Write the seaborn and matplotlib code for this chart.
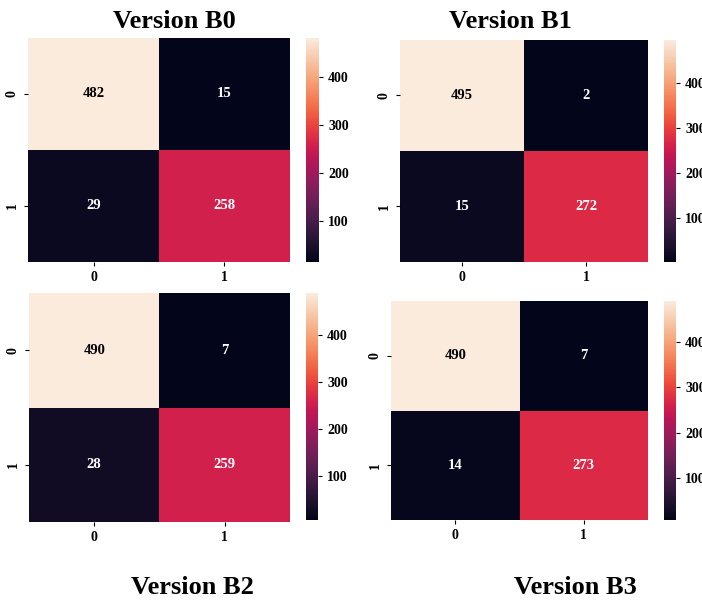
import numpy as np
import matplotlib
matplotlib.use("Agg")
import matplotlib.pyplot as plt
import seaborn as sns

# confusion matrices for the four versions
labels = ["0", "1"]
cm_b0 = [[482, 15], [29, 258]]
cm_b1 = [[495, 2], [15, 272]]
cm_b2 = [[490, 7], [28, 259]]
cm_b3 = [[490, 7], [14, 273]]
titles = ["Version B0", "Version B1", "Version B2", "Version B3"]

plt.rcParams["font.family"] = ["Liberation Serif", "DejaVu Serif"]
plt.rcParams["font.weight"] = "bold"

fig = plt.figure(figsize=(7.02, 6.03), dpi=100)

# [heatmap axes], [colorbar axes] in figure fractions
ax_pos = [
    [0.0399, 0.5655, 0.3732, 0.3715],
    [0.5698, 0.5655, 0.3533, 0.3682],
    [0.0413, 0.1343, 0.3718, 0.3798],
    [0.5570, 0.1376, 0.3661, 0.3632],
]
cb_pos = [
    [0.4359, 0.5655, 0.0185, 0.3715],
    [0.9459, 0.5655, 0.0171, 0.3682],
    [0.4359, 0.1376, 0.0171, 0.3765],
    [0.9459, 0.1376, 0.0171, 0.3632],
]
title_pos = [(0.249, 0.964), (0.7265, 0.964), (0.2735, 0.025), (0.819, 0.025)]

for cm, p, c, t, tp in zip([cm_b0, cm_b1, cm_b2, cm_b3], ax_pos, cb_pos, titles, title_pos):
    ax = fig.add_axes(p)
    cax = fig.add_axes(c)
    sns.heatmap(np.array(cm), annot=True, fmt="d", cmap="rocket", ax=ax, cbar_ax=cax,
                xticklabels=labels, yticklabels=labels,
                annot_kws={"fontsize": 10.5, "fontweight": "bold"})
    # dark annotations in pure black like the original
    for txt in ax.texts:
        if txt.get_color() != "w":
            txt.set_color("black")
    ax.tick_params(axis="both", labelsize=10, length=3)
    plt.setp(ax.get_yticklabels(), rotation=90, va="center")
    cax.tick_params(labelsize=10, length=3)
    cax.set_yticks([100, 200, 300, 400])
    fig.text(tp[0], tp[1], t, ha="center", va="center", fontsize=19, fontweight="bold")

plt.savefig("out.png", dpi=100)
